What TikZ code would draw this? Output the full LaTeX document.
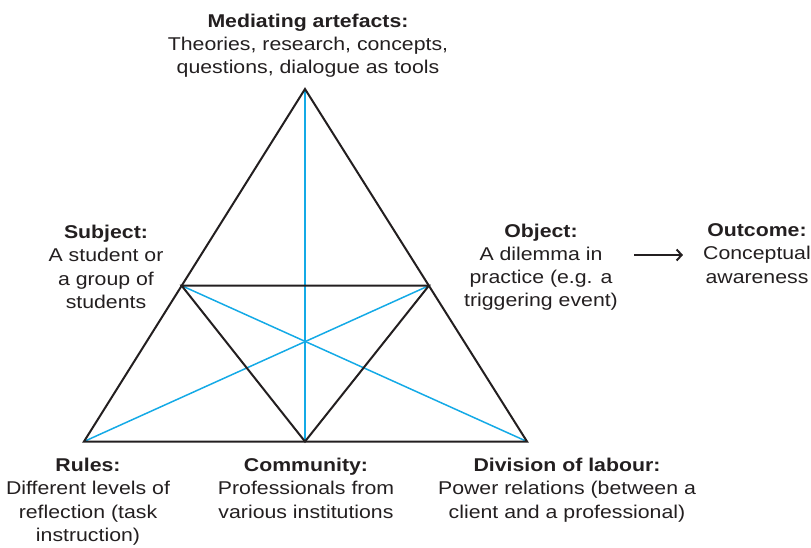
\documentclass[tikz,border=0pt]{standalone}
\usepackage{fontspec}
\setmainfont{Liberation Sans}[FakeStretch=1.15]
\usetikzlibrary{calc,arrows.meta}
\definecolor{ink}{RGB}{35,31,32}
\definecolor{cyanline}{RGB}{20,170,230}
\begin{document}
\begin{tikzpicture}[x=1pt,y=-1pt,
  edge/.style={draw=ink,line width=2pt,line join=miter},
  guide/.style={draw=cyanline,line width=1.5pt},
  label/.style={align=center,text=ink,inner sep=0pt,anchor=north,
    font=\fontsize{18.5}{23.2}\selectfont},
  flow/.style={draw=ink,line width=1.3pt,-{Straight Barb[length=5pt,width=11pt,line width=2pt]}},
]
\useasboundingbox (0,0) rectangle (811,547);

% corners of the activity triangle
\coordinate (apex) at (305,89);
\coordinate (bl) at (84,441.5);
\coordinate (br) at (527,441.5);
\coordinate (bm) at (305,441.5);
\coordinate (ml) at ($(apex)!0.558!(bl)$);
\coordinate (mr) at ($(apex)!0.558!(br)$);

% blue links through the centre
\draw[guide] (apex) -- (bm);
\draw[guide] (ml) -- (br);
\draw[guide] (mr) -- (bl);

% outer and inner triangles
\draw[edge] (apex) -- (bl) -- (br) -- cycle;
\draw[edge] (ml) -- (mr) -- (bm) -- cycle;

% labels
\node[label] (mediating) at (308,13.5)
  {\textbf{Mediating artefacts:}\\Theories, research, concepts,\\questions, dialogue as tools};
\node[label] (subject) at (106,225)
  {\textbf{Subject:}\\A student or\\a group of\\students};
\node[label] (object) at (541,223.5)
  {\textbf{Object:}\\A dilemma in\\practice (e.g. a\\triggering event)};
\node[label] (outcome) at (757,223.5)
  {\textbf{Outcome:}\\Conceptual\\awareness};
\node[label] (rules) at (88,458)
  {\textbf{Rules:}\\Different levels of\\reflection (task\\instruction)};
\node[label] (community) at (306,458)
  {\textbf{Community:}\\Professionals from\\various institutions};
\node[label] (division) at (567,458)
  {\textbf{Division of labour:}\\Power relations (between a\\client and a professional)};

% object leads to outcome
\coordinate (lvl) at (0,255);
\draw[flow] ([xshift=16pt]object.east |- lvl) -- ([xshift=-20pt]outcome.west |- lvl);
\end{tikzpicture}
\end{document}
